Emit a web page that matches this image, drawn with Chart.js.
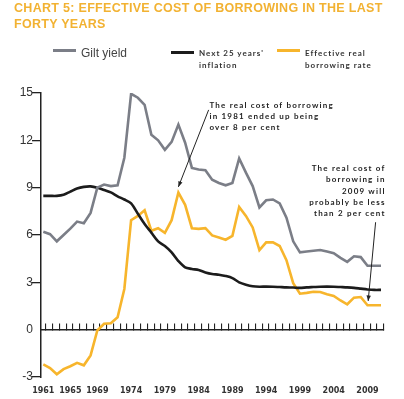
<!DOCTYPE html>
<html><head><meta charset="utf-8">
<script src="https://cdn.jsdelivr.net/npm/chart.js@4.4.1/dist/chart.umd.min.js"></script>
<style>
html,body{margin:0;padding:0;background:#fff;}
#wrap{position:relative;width:404px;height:399px;overflow:hidden;background:#fff;}
canvas{position:absolute;left:0;top:0;}
#title{position:absolute;left:14px;top:0px;font:bold 12.5px "Liberation Sans",Arial,sans-serif;letter-spacing:0.3px;color:#F2B232;line-height:16px;white-space:nowrap;}
.sw{position:absolute;height:3px;width:23px;}
.lt{position:absolute;white-space:nowrap;color:#333;}
.note{position:absolute;white-space:nowrap;color:#222;font:bold 8px Lato;letter-spacing:1.2px;}
</style></head><body>
<div id="wrap"><canvas id="c" width="404" height="399"></canvas>
<div id="title">CHART 5: EFFECTIVE COST OF BORROWING IN THE LAST<br>FORTY YEARS</div>
<div id="legend"></div><div id="notes"></div></div>
<script>
const years = [1961,1962,1963,1964,1965,1966,1967,1968,1969,1970,1971,1972,1973,1974,1975,1976,1977,1978,1979,1980,1981,1982,1983,1984,1985,1986,1987,1988,1989,1990,1991,1992,1993,1994,1995,1996,1997,1998,1999,2000,2001,2002,2003,2004,2005,2006,2007,2008,2009,2010,2011];
const labelYears = [1961,1965,1969,1974,1979,1984,1989,1994,1999,2004,2009];
const yTicks = [-3,0,3,6,9,12,15];
const giltYield = [6.2,6.05,5.6,6.0,6.4,6.85,6.75,7.4,9.0,9.2,9.1,9.15,10.9,14.95,14.7,14.25,12.35,12.0,11.4,11.9,13.0,11.85,10.25,10.15,10.1,9.5,9.3,9.15,9.3,10.85,9.95,9.1,7.75,8.2,8.25,8.0,7.1,5.6,4.9,4.95,5.0,5.05,4.95,4.85,4.55,4.3,4.65,4.6,4.05,4.05,4.05];
const inflation25 = [8.48,8.48,8.48,8.55,8.75,8.95,9.05,9.08,9.0,8.85,8.7,8.45,8.25,8.0,7.35,6.7,6.15,5.6,5.3,4.9,4.35,3.95,3.85,3.78,3.63,3.53,3.48,3.4,3.27,3.0,2.85,2.75,2.72,2.73,2.72,2.7,2.68,2.67,2.65,2.68,2.7,2.72,2.73,2.72,2.7,2.68,2.65,2.6,2.55,2.52,2.52];
const realRate = [-2.2,-2.43,-2.83,-2.5,-2.32,-2.1,-2.26,-1.63,-0.05,0.37,0.41,0.79,2.58,6.94,7.21,7.57,6.27,6.43,6.14,6.94,8.69,7.91,6.43,6.39,6.43,5.97,5.84,5.7,5.95,7.78,7.21,6.48,5.04,5.53,5.53,5.3,4.4,2.95,2.28,2.33,2.4,2.39,2.24,2.14,1.85,1.61,2.03,2.07,1.55,1.55,1.55];
const seriesNames = ['Gilt yield', "Next 25 years' inflation", 'Effective real borrowing rate'];
const legendLines = [['Gilt yield'], ["Next 25 years'", 'inflation'], ['Effective real', 'borrowing rate']];
const notes = [
  {lines:['The real cost of borrowing','in 1981 ended up being','over 8 per cent'], at:[1985.6,14.04], align:'left', lineH:11, from:[1985.48,13.93], to:[1981.0,9.05]},
  {lines:['The real cost of','borrowing in','2009 will','probably be less','than 2 per cent'], at:[2011.68,10.0], align:'right', lineH:11.25, from:[2010.2,6.81], to:[2009.1,1.82]}
];
const X_MIN = 1960.66, X_MAX = 2011.34;

const pts = arr => years.map((yr,i)=>({x:yr, y:arr[i]}));

const arrows = {
  id:'arrows',
  afterDatasetsDraw(chart){
    const ctx = chart.ctx, x = chart.scales.x, y = chart.scales.y;
    ctx.save();
    ctx.fillStyle = '#222'; ctx.strokeStyle = '#222'; ctx.lineWidth = 1;
    notes.forEach(n => {
      const x1 = x.getPixelForValue(n.from[0]), y1 = y.getPixelForValue(n.from[1]);
      const x2 = x.getPixelForValue(n.to[0]), y2 = y.getPixelForValue(n.to[1]);
      ctx.beginPath(); ctx.moveTo(x1,y1); ctx.lineTo(x2,y2); ctx.stroke();
      const a = Math.atan2(y2-y1, x2-x1), L = 5.5, W = 2.2;
      ctx.beginPath();
      ctx.moveTo(x2,y2);
      ctx.lineTo(x2 - L*Math.cos(a) + W*Math.sin(a), y2 - L*Math.sin(a) - W*Math.cos(a));
      ctx.lineTo(x2 - L*Math.cos(a) - W*Math.sin(a), y2 - L*Math.sin(a) + W*Math.cos(a));
      ctx.closePath(); ctx.fill();
    });
    ctx.restore();
  }
};

const chart = new Chart(document.getElementById('c'), {
  type:'line',
  data:{datasets:[
    {label:seriesNames[0], data:pts(giltYield), borderColor:'#7B7E87', borderWidth:2.6, pointRadius:0, tension:0},
    {label:seriesNames[1], data:pts(inflation25), borderColor:'#1C1C1C', borderWidth:2.6, pointRadius:0, tension:0.3},
    {label:seriesNames[2], data:pts(realRate), borderColor:'#F7B52C', borderWidth:2.6, pointRadius:0, tension:0}
  ]},
  options:{
    responsive:false, animation:false, devicePixelRatio:1,
    layout:{padding:{top:93, right:20.7, bottom:4, left:0}},
    plugins:{legend:{display:false}, title:{display:false}, tooltip:{enabled:false}},
    scales:{
      x:{type:'linear', min:X_MIN, max:X_MAX,
        grid:{display:false, drawTicks:false, tickLength:0}, border:{display:false},
        afterBuildTicks: s => { s.ticks = labelYears.map(v=>({value:v})); },
        ticks:{autoSkip:false, maxRotation:0, padding:9, color:'#333', font:{family:'DejaVu Sans', weight:'bold', size:8}, callback: v => String(v)},
        afterFit: s => { s.height = 18; }
      },
      xZero:{type:'linear', axis:'x', min:X_MIN, max:X_MAX, position:{y:0},
        afterBuildTicks: s => { s.ticks = years.map(v=>({value:v + 0.4})); },
        ticks:{display:false, autoSkip:false},
        grid:{display:true, drawOnChartArea:false, drawTicks:true, tickLength:-7, color:'#222', lineWidth:1.1},
        border:{display:true, color:'#222', width:1.5}
      },
      y:{min:-3, max:15,
        afterBuildTicks: s => { s.ticks = yTicks.map(v=>({value:v})); },
        grid:{display:true, drawOnChartArea:false, drawTicks:false, tickLength:0},
        border:{display:true, color:'#222', width:1.5},
        ticks:{padding:8, color:'#333', font:{family:'Liberation Sans', size:12}},
        afterFit: s => { s.width = 41; }
      },
      yIn:{axis:'y', type:'linear', min:-3, max:15, position:{x:X_MIN},
        afterBuildTicks: s => { s.ticks = yTicks.filter(v => v !== 0).map(v=>({value:v})); },
        ticks:{display:false, autoSkip:false},
        grid:{display:true, drawOnChartArea:false, drawTicks:true, tickLength:9, color:'#222', lineWidth:1.3},
        border:{display:false}
      }
    }
  },
  plugins:[arrows]
});

// HTML legend built from datasets
const legendPos = [
  {sx:53, sy:49, tx:81, ty:46.7, font:'12px "Liberation Sans", Arial, sans-serif', lh:12, ls:'0px', color:'#444'},
  {sx:171, sy:50.5, tx:199, ty:48.4, font:'bold 8px Lato', lh:11.4, ls:'1px', color:'#333'},
  {sx:277, sy:49.3, tx:305, ty:48.4, font:'bold 8px Lato', lh:11.4, ls:'1px', color:'#333'}
];
const lg = document.getElementById('legend');
chart.data.datasets.forEach((ds,i) => {
  const p = legendPos[i];
  const sw = document.createElement('div');
  sw.className = 'sw'; sw.style.left = p.sx+'px'; sw.style.top = p.sy+'px'; sw.style.background = ds.borderColor;
  lg.appendChild(sw);
  const t = document.createElement('div');
  t.className = 'lt'; t.style.left = p.tx+'px'; t.style.top = p.ty+'px'; t.style.font = p.font;
  t.style.lineHeight = p.lh+'px'; t.style.letterSpacing = p.ls; t.style.color = p.color;
  t.innerHTML = legendLines[i].join('<br>');
  lg.appendChild(t);
});

// annotation texts, anchored through the chart scales
const nd = document.getElementById('notes');
notes.forEach(n => {
  const tx = chart.scales.x.getPixelForValue(n.at[0]);
  const ty = chart.scales.y.getPixelForValue(n.at[1]);
  const d = document.createElement('div');
  d.className = 'note';
  d.style.lineHeight = n.lineH + 'px';
  const base = (n.lineH - 9.6) / 2 + 7.9;
  d.style.top = (ty - base) + 'px';
  if (n.align === 'left') { d.style.left = tx + 'px'; }
  else { d.style.right = (404 - tx) + 'px'; d.style.textAlign = 'right'; }
  d.innerHTML = n.lines.join('<br>');
  nd.appendChild(d);
});
</script>
</body></html>
